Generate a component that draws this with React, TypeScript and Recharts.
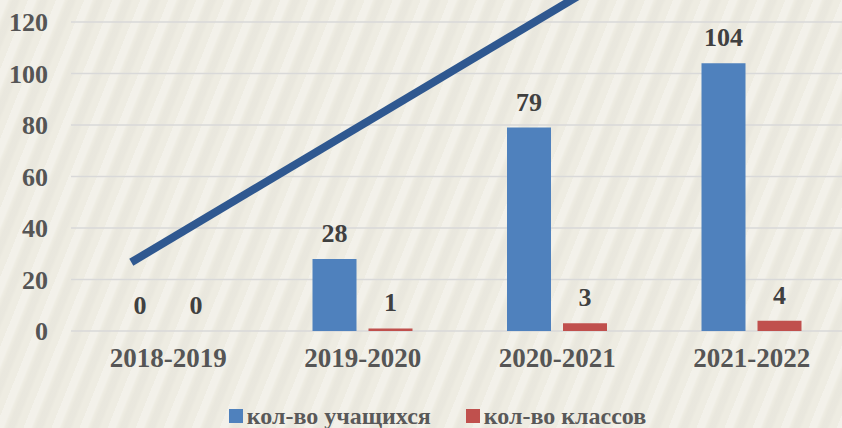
import React from "react";
import {
  ComposedChart,
  Bar,
  XAxis,
  YAxis,
  CartesianGrid,
  LabelList,
  Legend,
  ReferenceLine,
} from "recharts";

const years = ["2018-2019", "2019-2020", "2020-2021", "2021-2022"];
const positions = [0.5, 1.5, 2.5, 3.5];
const students = [0, 28, 79, 104];
const classes = [0, 1, 3, 4];
const yTicks = [0, 20, 40, 60, 80, 100, 120];
// decorative trend arrow, in (category-position, value) units
const arrowX = [0.31, 2.65];
const arrowY = [26.7, 132];

const seriesNames = ["кол-во учащихся", "кол-во классов"];
const seriesColors = ["#4F81BD", "#C0504D"];

const data = years.map((y, i) => ({ year: y, pos: positions[i], students: students[i], classes: classes[i] }));

const FONT = "'Liberation Serif', 'Times New Roman', serif";

const XTick = (props: any) => {
  const { x, y, payload } = props;
  const idx = positions.indexOf(payload.value);
  return (
    <text x={x} y={y} dy={18} textAnchor="middle" fontFamily={FONT} fontWeight="bold" fontSize={27} fill="#555555">
      {idx >= 0 ? years[idx] : ""}
    </text>
  );
};

const YTick = (props: any) => {
  const { x, y, payload } = props;
  return (
    <text x={x} y={y} dy={9} textAnchor="end" fontFamily={FONT} fontWeight="bold" fontSize={26} fill="#555555">
      {payload.value}
    </text>
  );
};

const BarLabel = (props: any) => {
  const { x, y, width, value } = props;
  return (
    <text x={x + width / 2} y={y - 17} textAnchor="middle" fontFamily={FONT} fontWeight="bold" fontSize={26} fill="#404040">
      {value}
    </text>
  );
};

const LegendContent = () => (
  <div
    style={{
      display: "flex",
      justifyContent: "center",
      alignItems: "center",
      fontFamily: FONT,
      fontWeight: "bold",
      fontSize: 24,
      color: "#595959",
      marginLeft: 26,
      height: 24,
      lineHeight: "24px",
    }}
  >
    {seriesNames.map((n, i) => (
      <div key={n} style={{ display: "flex", alignItems: "center", marginRight: i === 0 ? 35 : 0 }}>
        <span style={{ width: 14, height: 14, background: seriesColors[i], display: "inline-block", marginRight: 4 }} />
        <span>{n}</span>
      </div>
    ))}
  </div>
);

export default function App() {
  return (
    <div
      style={{
        position: "fixed",
        left: 0,
        top: 0,
        width: 842,
        height: 428,
        background:
          "repeating-linear-gradient(112deg, rgba(255,255,255,0.28) 0px, rgba(255,255,255,0.28) 7px, rgba(255,255,255,0) 9px, rgba(0,0,0,0.018) 12px, rgba(0,0,0,0.018) 17px, rgba(255,255,255,0) 20px, rgba(255,255,255,0) 26px), #EEECE2",
        overflow: "hidden",
      }}
    >
      <ComposedChart
        width={850}
        height={428}
        data={data}
        margin={{ top: 22, right: 1, left: 0, bottom: 0 }}
        barGap={12}
      >
        <CartesianGrid vertical={false} stroke="#D9D9D9" strokeWidth={1.5} />
        <XAxis
          dataKey="pos"
          type="number"
          domain={[0, 4]}
          ticks={positions}
          allowDataOverflow
          axisLine={false}
          tickLine={false}
          tickMargin={12}
          height={73}
          interval={0}
          tick={<XTick />}
        />
        <YAxis
          domain={[0, 120]}
          ticks={yTicks}
          width={71}
          axisLine={false}
          tickLine={false}
          tickMargin={17}
          allowDataOverflow
          tick={<YTick />}
        />
        <Legend verticalAlign="bottom" height={24} content={<LegendContent />} />
        <Bar dataKey="students" name={seriesNames[0]} fill={seriesColors[0]} barSize={44} minPointSize={0.01} isAnimationActive={false}>
          <LabelList dataKey="students" content={<BarLabel />} />
        </Bar>
        <Bar dataKey="classes" name={seriesNames[1]} fill={seriesColors[1]} barSize={44} minPointSize={0.01} isAnimationActive={false}>
          <LabelList dataKey="classes" content={<BarLabel />} />
        </Bar>
        <ReferenceLine
          segment={[
            { x: arrowX[0], y: arrowY[0] },
            { x: arrowX[1], y: arrowY[1] },
          ]}
          ifOverflow="visible"
          stroke="#2F5890"
          strokeWidth={8}
        />
      </ComposedChart>
    </div>
  );
}
